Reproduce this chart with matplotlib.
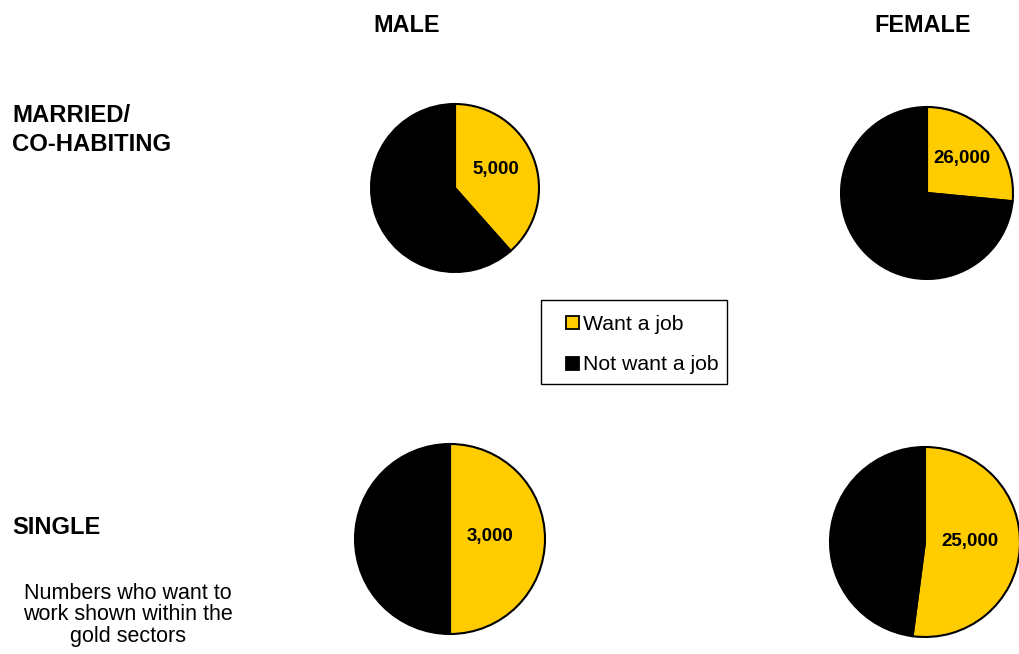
import numpy as np
import matplotlib
matplotlib.use("Agg")
import matplotlib.pyplot as plt
from matplotlib.patches import Rectangle

plt.rcParams['font.family'] = ['Liberation Sans', 'DejaVu Sans']

# ---- data ----
columns = ['MALE', 'FEMALE']
rows = ['MARRIED/\nCO-HABITING', 'SINGLE']
series = ['Want a job', 'Not want a job']
want_job = [5000, 26000, 3000, 25000]        # married male, married female, single male, single female
not_want_job = [8000, 72000, 3000, 23000]
note = 'Numbers who want to\nwork shown within the\ngold sectors'

GOLD = '#FFCC00'
W, H = 1019, 654
fig = plt.figure(figsize=(W / 100, H / 100), dpi=100)
ax = fig.add_axes([0, 0, 1, 1])

def Y(y):
    return H - y

# pie layout (pixel centres, radii, label distance as fraction of radius)
centers = [(455, 188), (927, 193), (450, 539), (925, 542)]
radii = [84, 86, 95, 95]
label_dist = [0.52, 0.55, 0.42, 0.47]

for i in range(4):
    cx, cy = centers[i]
    r = radii[i]
    wedges, _ = ax.pie([want_job[i], not_want_job[i]], colors=[GOLD, 'black'],
                       startangle=90, counterclock=False,
                       center=(cx, Y(cy)), radius=r, frame=True,
                       wedgeprops=dict(edgecolor='black', linewidth=1.5))
    w0 = wedges[0]
    mid = np.deg2rad((w0.theta1 + w0.theta2) / 2)
    d = label_dist[i] * r
    ax.text(cx + d * np.cos(mid), Y(cy) + d * np.sin(mid) + 3, f'{want_job[i]:,}',
            ha='center', va='center', fontsize=13.5, fontweight='bold', color='black')

ax.set_xlim(0, W)
ax.set_ylim(0, H)
ax.set_aspect('equal')
ax.axis('off')

# column headers
ax.text(407, Y(26), columns[0], ha='center', va='center', fontsize=16.8, fontweight='bold')
ax.text(923, Y(26), columns[1], ha='center', va='center', fontsize=16.8, fontweight='bold')

# row headers
ax.text(12, Y(130), rows[0], ha='left', va='center', fontsize=17.2, fontweight='bold', linespacing=1.3)
ax.text(12, Y(527), rows[1], ha='left', va='center', fontsize=17, fontweight='bold')

# note
ax.text(128, Y(615), note, ha='center', va='center', fontsize=15.5, linespacing=1.02)

# legend (drawn manually to match the boxed layout)
ax.add_patch(Rectangle((541, Y(384)), 186, 84, facecolor='white', edgecolor='black', linewidth=1.0))
legend_rows_y = [322, 363]
legend_colors = [GOLD, 'black']
for k in range(2):
    yk = legend_rows_y[k]
    ax.add_patch(Rectangle((566, Y(yk) - 6.5), 13, 13, facecolor=legend_colors[k],
                           edgecolor='black', linewidth=1.3))
    ax.text(583, Y(yk), series[k], ha='left', va='center_baseline', fontsize=15.3)

fig.savefig('out.png', dpi=100)
